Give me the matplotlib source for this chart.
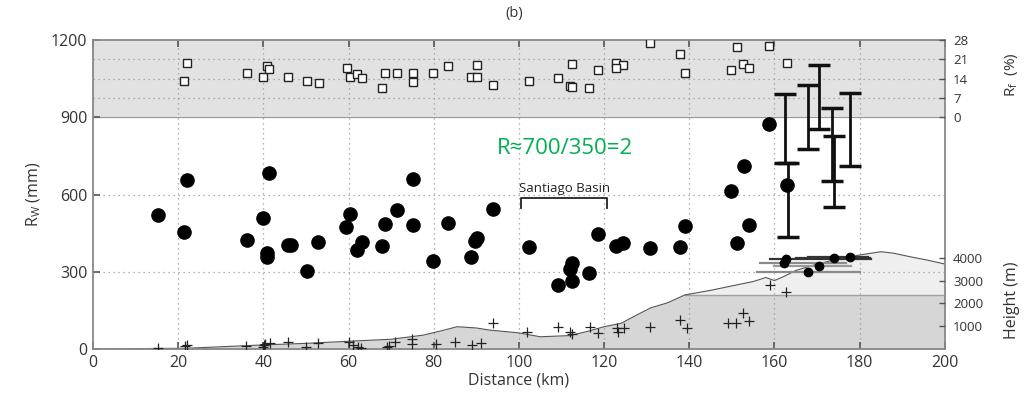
import numpy as np
import matplotlib
matplotlib.use("Agg")
import matplotlib.pyplot as plt

plt.rcParams['font.family'] = ['Open Sans', 'DejaVu Sans']

# rainfall R_W (mm) along the transect
rw_km = [15.3, 22.0, 21.4, 36.1, 39.8, 41.3, 40.8, 40.8, 45.8, 46.5, 52.9, 50.2,
         60.3, 59.5, 63.1, 61.9, 68.5, 67.9, 71.3, 75.2, 75.2, 79.9, 83.4, 88.7,
         90.1, 89.6, 94.0, 102.4, 109.2, 112.4, 112.0, 112.4, 116.5, 118.6, 122.9,
         124.5, 130.8, 137.8, 139.1, 149.7, 152.8, 154.1, 151.3, 158.8]
rw_mm = [520, 656, 456, 423, 507, 685, 372, 358, 404, 404, 417, 304,
         524, 475, 417, 384, 485, 401, 540, 659, 480, 343, 490, 358,
         432, 420, 542, 397, 248, 333, 310, 265, 296, 447, 400,
         413, 391, 397, 478, 615, 711, 480, 413, 874]

# R_f (%) - open squares in the upper band
rf_km = [22.0, 21.4, 36.2, 40.0, 40.8, 41.4, 45.9, 50.2, 53.0, 59.6, 60.3, 61.9,
         63.1, 67.9, 68.5, 71.4, 75.2, 75.2, 79.9, 83.4, 88.7, 90.1, 90.2, 94.0,
         102.4, 109.2, 112.4, 112.0, 112.5, 116.4, 118.5, 122.9, 124.5, 122.9,
         130.8, 137.8, 139.1, 149.7, 151.3, 152.7, 154.1, 158.8, 163.0]
rf_pct = [19.6, 13.3, 16.2, 14.7, 18.6, 17.4, 14.7, 13.2, 12.3, 17.7, 14.7, 15.7,
          14.1, 10.5, 16.2, 15.9, 15.9, 12.6, 16.2, 18.6, 14.7, 14.7, 19.0, 11.7,
          13.0, 14.1, 19.2, 11.3, 10.9, 10.5, 17.1, 19.7, 19.0, 17.9,
          26.8, 22.9, 15.9, 17.1, 25.4, 19.3, 17.7, 25.9, 19.8]

# vertical error ranges (mm)
eb_km = [162.4, 163.2, 167.9, 170.4, 173.6, 174.0, 177.7]
eb_lo = [721, 434, 777, 854, 654, 553, 711]
eb_hi = [989, 721, 1025, 1103, 935, 827, 993]
eb_pt_km = [163.0]
eb_pt_mm = [637]

# topography (m)
topo_km = [0, 10, 22, 38.5, 50, 62, 70, 77.5, 82, 85.5, 90, 93, 100, 105, 112, 116,
           120, 124, 128, 131, 135, 139, 145, 150, 155, 158, 160, 162, 165, 170, 175,
           180, 185, 188, 192, 196, 200]
topo_m = [0, 20, 35, 170, 250, 360, 430, 610, 810, 980, 925, 835, 710, 540, 590, 770,
          980, 1130, 1525, 1810, 2035, 2375, 2575, 2770, 2960, 3140, 3005, 3165, 3445,
          3730, 3955, 4125, 4270, 4205, 4045, 3900, 3730]
band_m = 2375

# station heights (m) - crosses
st_km = [15.3, 22.0, 21.6, 36.0, 40.0, 40.4, 40.2, 41.5, 45.8, 50.0, 52.9, 60.1,
         61.0, 62.2, 63.0, 69.0, 69.6, 71.0, 75.0, 75.0, 80.5, 85.0, 89.0, 91.0,
         94.0, 102.0, 109.3, 112.0, 112.4, 116.7, 118.6, 123.0, 123.2, 124.6,
         130.8, 137.8, 139.4, 149.0, 151.0, 152.7, 154.0, 159.0, 162.8]
st_m = [35, 170, 150, 150, 110, 225, 170, 280, 295, 100, 250, 315,
        170, 90, 55, 110, 135, 315, 450, 225, 225, 295, 160, 260,
        1130, 760, 960, 760, 680, 985, 700, 905, 770, 905,
        985, 1280, 905, 1165, 1165, 1560, 1245, 2815, 2510]

# horizontal ranges at high stations (m)
hb_km = [162.8, 174.0, 177.7, 162.3, 170.4, 167.9]
hb_m = [3930, 3975, 4020, 3765, 3640, 3370]
hb_lo = [158.9, 165.0, 168.0, 156.7, 160.0, 156.0]
hb_hi = [182.8, 182.5, 182.0, 176.9, 178.0, 180.2]
hb_col = ['#333333', '#333333', '#333333', '#8a8a8a', '#9a9a9a', '#8a8a8a']

rf_ticks = [0, 7, 14, 21, 28]
h_ticks = [4000, 3000, 2000, 1000]


def rf2mm(v):
    return 900 + np.asarray(v) * 300 / 28


def h2mm(v):
    return np.asarray(v) * 0.0885


fig = plt.figure(figsize=(10.28, 4.04), dpi=100)
ax = fig.add_axes([0.0905, 0.136, 0.8285, 0.765])
ax.set_xlim(0, 200)
ax.set_ylim(0, 1200)

# upper band for R_f
ax.axhspan(900, 1200, color='#e2e2e2', zorder=0)
ax.axhline(900, color='#9a9a9a', lw=0.8, zorder=1)

# topography
tk = np.linspace(0, 200, 801)
tp = np.interp(tk, topo_km, topo_m)
ax.fill_between(tk, 0, h2mm(tp), color='#efefef', lw=0, zorder=1)
ax.fill_between(tk, 0, h2mm(np.minimum(tp, band_m)), color='#d6d6d6', lw=0, zorder=1)
ax.plot([139, 200], h2mm([band_m, band_m]), color='#a0a0a0', lw=1, zorder=2)
ax.plot(topo_km, h2mm(topo_m), color='#555555', lw=0.8, zorder=2)

# grid
for gx in range(20, 200, 20):
    ax.axvline(gx, color='#9a9a9a', lw=0.9, ls=(0, (1, 3)), zorder=1.5)
for gy in [300, 600, 975, 1050, 1125]:
    ax.axhline(gy, color='#9a9a9a', lw=0.9, ls=(0, (1, 3)), zorder=1.5)

# station crosses
ax.plot(st_km, h2mm(st_m), '+', color='#222222', ms=7, mew=0.9, zorder=3)

# R_f squares
ax.plot(rf_km, rf2mm(rf_pct), 's', mfc='white', mec='#222222', ms=5.5, mew=1, zorder=3)

# R_W circles
ax.plot(rw_km, rw_mm, 'o', color='black', ms=9.5, zorder=4)

# vertical error bars
for x, lo, hi in zip(eb_km, eb_lo, eb_hi):
    ax.errorbar([x], [(lo + hi) / 2], yerr=[[(hi - lo) / 2], [(hi - lo) / 2]],
                fmt='none', ecolor='#111111', elinewidth=2, capsize=8, capthick=2.5, zorder=4)
ax.plot(eb_pt_km, eb_pt_mm, 'o', color='black', ms=9.5, zorder=5)

# horizontal ranges with points
for x, y, lo, hi, c in zip(hb_km, hb_m, hb_lo, hb_hi, hb_col):
    ax.plot([lo, hi], h2mm([y, y]), color=c, lw=1.6, zorder=4)
ax.plot(hb_km, h2mm(hb_m), 'o', color='black', ms=6, zorder=5)

# Santiago Basin bracket
ax.plot([100.6, 100.6, 120.7, 120.7], [548, 585, 585, 548], color='#222222', lw=1.3, zorder=4)
ax.text(110.8, 598, 'Santiago Basin', ha='center', va='bottom', fontsize=9.5, color='#222222')

ax.text(110.8, 780, 'R≈700/350=2', ha='center', va='center', fontsize=16, color='#00b050')

# axes styling
ax.set_xticks(range(0, 201, 20))
ax.set_yticks([0, 300, 600, 900, 1200])
ax.tick_params(direction='in', length=5, width=1.2, color='#555555', labelsize=11.5,
               top=True, right=True, labelcolor='#333333', pad=4)
for s in ax.spines.values():
    s.set_color('#888888')
    s.set_linewidth(1.3)
ax.set_xlabel('Distance (km)', fontsize=11.5, color='#333333', labelpad=1)
ax.set_ylabel(r'R$_\mathregular{W}$ (mm)', fontsize=11.5, color='#333333', labelpad=6)

ax2 = ax.twinx()
ax2.set_ylim(0, 1200)
ax2.set_yticks(list(rf2mm(rf_ticks)) + list(h2mm(h_ticks)))
ax2.set_yticklabels([str(v) for v in rf_ticks] + [str(v) for v in h_ticks])
ax2.tick_params(direction='in', length=4, width=1, color='#555555', labelsize=9.5,
                labelcolor='#333333', pad=6)
for s in ax2.spines.values():
    s.set_visible(False)

fig.text(1012 / 1028, 1 - 75 / 404, r'R$_\mathregular{f}$  (%)', rotation=90,
         ha='center', va='center', fontsize=11, color='#333333')
fig.text(1012 / 1028, 1 - 300 / 404, 'Height (m)', rotation=90,
         ha='center', va='center', fontsize=11.5, color='#333333')
fig.text(514 / 1028, 1 - 14 / 404, '(b)', ha='center', va='center', fontsize=10.5,
         color='#333333')

fig.savefig('out.png', dpi=100, facecolor='white')
